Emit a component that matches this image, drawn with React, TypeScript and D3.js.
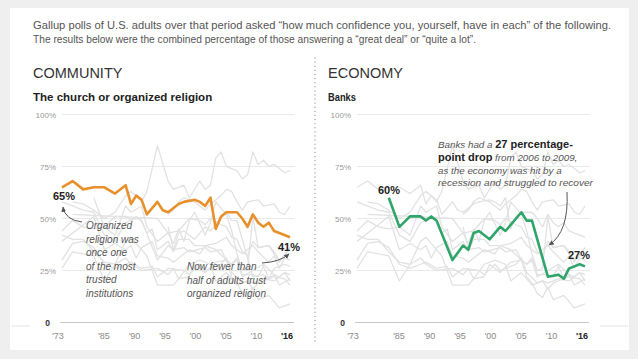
import React from "react";
import * as d3 from "d3";

type Pt = [number, number];

// highlighted series (Gallup, % "great deal" + "quite a lot")
const religion: Pt[] = [
  [1973, 65], [1975, 68], [1977, 64], [1979, 65], [1981, 65], [1983, 62], [1985, 66],
  [1986, 57], [1987, 61], [1988, 59], [1989, 52], [1991, 58], [1992, 54], [1993, 53],
  [1995, 57], [1996, 58], [1998, 59], [1999, 58], [2000, 56], [2001, 60], [2002, 45],
  [2003, 51], [2004, 53], [2006, 53], [2007, 50], [2008, 46], [2009, 52], [2010, 48],
  [2011, 46], [2012, 48], [2013, 44], [2014, 43], [2016, 41],
];

const banks: Pt[] = [
  [1979, 60], [1981, 46], [1983, 51], [1985, 51], [1986, 49], [1987, 51], [1988, 49],
  [1991, 30], [1993, 37], [1994, 35], [1995, 43], [1996, 44], [1998, 40], [2000, 46],
  [2001, 44], [2004, 53], [2005, 49], [2006, 49], [2009, 22], [2011, 23], [2012, 21],
  [2013, 26], [2014, 27], [2015, 28], [2016, 27],
];

// other institutions, drawn in grey behind
const military: Pt[] = [
  [1975, 58], [1977, 57], [1979, 54], [1981, 50], [1983, 53], [1985, 61], [1986, 63],
  [1987, 61], [1988, 58], [1989, 63], [1991, 85], [1993, 68], [1994, 64], [1996, 66],
  [1997, 60], [1998, 64], [1999, 68], [2000, 64], [2001, 66], [2002, 79], [2003, 82],
  [2004, 75], [2005, 74], [2006, 73], [2007, 69], [2008, 71], [2009, 82], [2010, 76],
  [2011, 78], [2012, 75], [2013, 76], [2014, 74], [2015, 72], [2016, 73],
];
const supremeCourt: Pt[] = [
  [1973, 44], [1975, 49], [1977, 46], [1979, 45], [1981, 46], [1983, 42], [1985, 56],
  [1986, 53], [1988, 56], [1989, 46], [1991, 39], [1993, 43], [1995, 44], [1997, 50],
  [1999, 49], [2000, 47], [2001, 50], [2003, 47], [2004, 46], [2005, 41], [2006, 40],
  [2007, 34], [2008, 32], [2009, 39], [2010, 36], [2012, 37], [2013, 34], [2014, 30],
  [2015, 32], [2016, 36],
];
const publicSchools: Pt[] = [
  [1973, 58], [1977, 54], [1979, 53], [1981, 42], [1983, 39], [1985, 48], [1987, 50],
  [1988, 49], [1989, 43], [1990, 45], [1991, 35], [1993, 39], [1994, 34], [1995, 40],
  [1997, 40], [1998, 37], [2000, 37], [2002, 38], [2004, 41], [2005, 37], [2007, 33],
  [2009, 37], [2010, 34], [2012, 29], [2013, 32], [2014, 26], [2015, 31], [2016, 30],
];
const congress: Pt[] = [
  [1973, 42], [1975, 40], [1977, 40], [1979, 34], [1981, 29], [1983, 28], [1985, 39],
  [1986, 41], [1988, 35], [1989, 32], [1991, 18], [1994, 18], [1995, 21], [1997, 22],
  [1998, 28], [2000, 24], [2002, 29], [2004, 30], [2005, 22], [2006, 19], [2007, 14],
  [2008, 12], [2009, 17], [2010, 11], [2012, 13], [2013, 10], [2014, 7], [2016, 9],
];
const newspapers: Pt[] = [
  [1973, 39], [1979, 51], [1981, 35], [1983, 38], [1985, 35], [1986, 37], [1987, 31],
  [1988, 36], [1990, 39], [1991, 32], [1993, 31], [1994, 29], [1997, 35], [1999, 33],
  [2000, 37], [2002, 35], [2004, 30], [2005, 28], [2006, 30], [2007, 22], [2009, 25],
  [2011, 28], [2013, 23], [2014, 22], [2015, 24], [2016, 20],
];
const organizedLabor: Pt[] = [
  [1973, 30], [1975, 38], [1977, 39], [1979, 36], [1981, 28], [1983, 26], [1985, 28],
  [1986, 29], [1988, 26], [1990, 27], [1991, 22], [1993, 26], [1996, 25], [1997, 23],
  [1999, 28], [2000, 25], [2003, 28], [2004, 31], [2005, 24], [2007, 19], [2008, 20],
  [2009, 19], [2011, 21], [2013, 20], [2015, 24], [2016, 23],
];
const bigBusiness: Pt[] = [
  [1973, 26], [1975, 34], [1977, 33], [1979, 32], [1981, 20], [1983, 28], [1985, 31],
  [1986, 28], [1988, 25], [1991, 26], [1993, 23], [1994, 26], [1995, 21], [1997, 28],
  [1999, 30], [2001, 28], [2002, 20], [2004, 24], [2006, 18], [2008, 20], [2009, 16],
  [2010, 19], [2013, 22], [2015, 21], [2016, 18],
];
const tvNews: Pt[] = [
  [1993, 46], [1994, 35], [1996, 36], [1997, 34], [2000, 36], [2001, 34], [2003, 35],
  [2004, 30], [2005, 28], [2006, 31], [2007, 23], [2009, 23], [2010, 22], [2011, 27],
  [2012, 21], [2013, 23], [2014, 18], [2016, 21],
];
const police: Pt[] = [
  [1993, 52], [1994, 54], [1995, 58], [1996, 60], [1998, 58], [2000, 54], [2001, 57],
  [2003, 61], [2004, 64], [2005, 63], [2006, 58], [2007, 54], [2008, 58], [2010, 59],
  [2011, 56], [2013, 57], [2014, 53], [2015, 52], [2016, 56],
];
const presidency: Pt[] = [
  [1975, 52], [1991, 50], [1993, 43], [1994, 38], [1995, 45], [1996, 39], [1997, 49],
  [1998, 53], [2000, 42], [2001, 48], [2002, 58], [2003, 55], [2004, 52], [2005, 44],
  [2006, 33], [2007, 25], [2008, 26], [2009, 51], [2010, 36], [2012, 37], [2014, 29],
  [2015, 33], [2016, 36],
];

const shared = [military, supremeCourt, publicSchools, congress, newspapers,
  organizedLabor, bigBusiness, tvNews, police, presidency];

const yTicks = [100, 75, 50, 25];
const xLabels = ["'73", "'85", "'90", "'95", "'00", "'05", "'10", "'16"];

const SANS = "'Liberation Sans', Arial, sans-serif";
const ORANGE = "#e8902c";
const GREEN = "#2fa56a";

const y = d3.scaleLinear().domain([0, 100]).range([322.5, 114.5]);

const Panel = ({ x0, head, sub, series, others, color }: any) => {
  const x = d3.scaleLinear().domain([1973, 2016]).range([x0, x0 + 228]);
  const lbl = d3.scalePoint().domain(xLabels.slice(1)).range([x0 + 42, x0 + 225]);
  const line = d3.line<Pt>().x((d) => x(d[0])).y((d) => y(d[1]));
  return (
    <g fontFamily={SANS}>
      <text x={x0 - 29} y={78} fontSize={14.5} fill="#333" fontWeight={300}>{head}</text>
      <text x={x0 - 29} y={100.5} fontSize={11} fontWeight="bold" fill="#222"
        textLength={sub.length * 5.6} lengthAdjust="spacingAndGlyphs">{sub}</text>
      {yTicks.map((t) => (
        <g key={t}>
          <line x1={x0} x2={x0 + 233} y1={y(t)} y2={y(t)} stroke="#e9e9e9" />
          <text x={x0 - 6} y={y(t) + 3} fontSize={8} fill="#9a9a9a" textAnchor="end">{t}%</text>
        </g>
      ))}
      {others.map((s: Pt[], i: number) => (
        <path key={i} d={line(s) || ""} fill="none" stroke="#e2e2e2" strokeWidth={1.3}
          strokeLinejoin="round" />
      ))}
      <path d={line(series) || ""} fill="none" stroke={color} strokeWidth={2.6}
        strokeLinejoin="round" />
      <line x1={x0 - 2} x2={x0 + 232} y1={y(0)} y2={y(0)} stroke="#c8c8c8" />
      <text x={x0 - 12} y={y(0) + 3} fontSize={8.5} fontWeight="bold" fill="#333" textAnchor="end">0</text>
      {xLabels.map((l, i) => (
        <text key={l} x={i === 0 ? x(1973) - 4 : lbl(l)} y={339} fontSize={9}
          textAnchor="middle" fill={i === xLabels.length - 1 ? "#222" : "#8a8a8a"}
          fontWeight={i === xLabels.length - 1 ? "bold" : "normal"}>{l}</text>
      ))}
    </g>
  );
};

const Arrow = ({ d }: { d: string }) => (
  <path d={d} fill="none" stroke="#555" strokeWidth={1} markerEnd="url(#ah)" />
);

export default function App() {
  const note = { fontFamily: SANS, fontSize: 10, fontStyle: "italic", fill: "#555" } as const;
  return (
    <svg width={638} height={359} style={{ position: "absolute", left: 0, top: 0 }}>
      <defs>
        <marker id="ah" viewBox="0 0 10 10" refX={8} refY={5} markerWidth={6} markerHeight={6}
          orient="auto">
          <path d="M0,1 L9,5 L0,9 z" fill="#555" />
        </marker>
      </defs>
      <rect width={638} height={359} fill="#efefef" />
      <rect x={10} y={8} width={619} height={342} fill="#fff" />
      <line x1={12} x2={30} y1={326} y2={326} stroke="#e4e4e4" />
      <line x1={600} x2={628} y1={326} y2={326} stroke="#e4e4e4" />

      <text x={33} y={29} fontFamily={SANS} fontSize={10.5} fill="#555" textLength={578}
        lengthAdjust="spacingAndGlyphs">
        Gallup polls of U.S. adults over that period asked “how much confidence you, yourself, have in each” of the following.
      </text>
      <text x={33} y={43} fontFamily={SANS} fontSize={10.5} fill="#555" textLength={443}
        lengthAdjust="spacingAndGlyphs">
        The results below were the combined percentage of those answering a “great deal” or “quite a lot”.
      </text>

      <line x1={315} x2={315} y1={58} y2={342} stroke="#999" strokeWidth={1.3}
        strokeDasharray="0.1 4" strokeLinecap="round" />

      <Panel x0={62} head="COMMUNITY" sub="The church or organized religion" series={religion}
        others={[...shared, banks]} color={ORANGE} />
      <Panel x0={357} head="ECONOMY" sub="Banks" series={banks}
        others={[...shared, religion]} color={GREEN} />

      {/* left annotations */}
      <text x={53} y={200} fontFamily={SANS} fontSize={11} fontWeight="bold" fill="#222">65%</text>
      <Arrow d="M82,222 Q65,220 63,207" />
      {["Organized", "religion was", "once one", "of the most", "trusted", "institutions"].map((t, i) => (
        <text key={t} x={86} y={229 + i * 13.5} {...note}>{t}</text>
      ))}
      <text x={300} y={251} fontFamily={SANS} fontSize={11} fontWeight="bold" fill="#222"
        textAnchor="end">41%</text>
      <Arrow d="M262,263 Q280,262 289,254" />
      {["Now fewer than", "half of adults trust", "organized religion"].map((t, i) => (
        <text key={t} x={187} y={270 + i * 13.5} {...note}>{t}</text>
      ))}

      {/* right annotations */}
      <text x={378} y={194} fontFamily={SANS} fontSize={11} fontWeight="bold" fill="#222">60%</text>
      <text x={438} y={148} {...note} fontSize={9.8}>
        Banks had a <tspan fontStyle="normal" fontWeight="bold" fill="#222" fontSize={11}>27 percentage-</tspan>
      </text>
      <text x={438} y={161} {...note} fontSize={9.8}>
        <tspan fontStyle="normal" fontWeight="bold" fill="#222" fontSize={11}>point drop</tspan> from 2006 to 2009,
      </text>
      <text x={438} y={173.5} {...note} fontSize={9.8}>as the economy was hit by a</text>
      <text x={438} y={186} {...note} fontSize={9.8} textLength={155} lengthAdjust="spacingAndGlyphs">
        recession and struggled to recover
      </text>
      <Arrow d="M567,192 Q569,232 549,245" />
      <text x={590} y={259} fontFamily={SANS} fontSize={11} fontWeight="bold" fill="#222"
        textAnchor="end">27%</text>
    </svg>
  );
}
